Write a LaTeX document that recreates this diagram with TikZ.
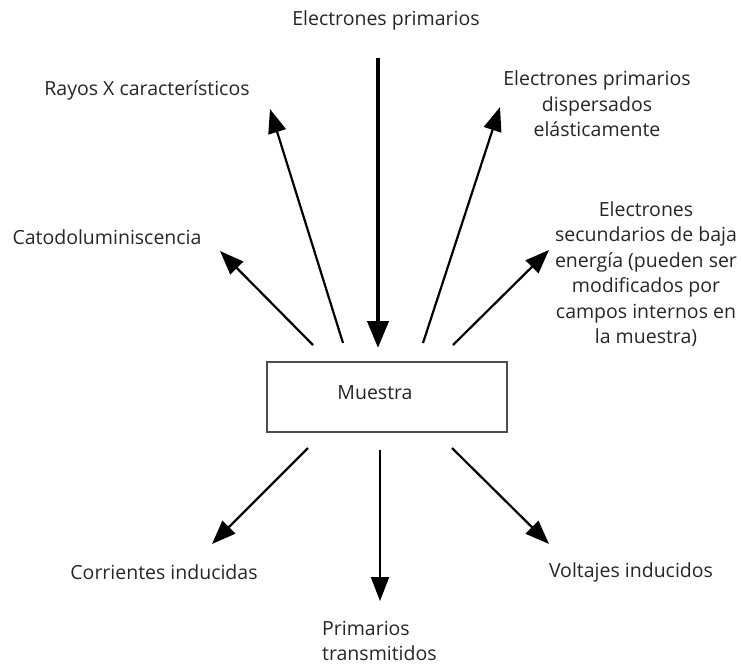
\documentclass[tikz,border=0pt]{standalone}
\usepackage{fontspec}
\setmainfont{Open Sans}
\usetikzlibrary{arrows.meta}

\begin{document}
\begin{tikzpicture}[x=1pt,y=-1pt,font=\fontsize{19.5}{25.5}\selectfont]
      \useasboundingbox (0,0) rectangle (741,665);
      \begin{scope}[every node/.style={inner sep=0pt,align=center,text=black!85}]
        \node (primarios) at (386,20) {Electrones primarios};
        \node (rayosx) at (147,90) {Rayos X característicos};
        \node (catodo) at (107,237) {Catodoluminiscencia};
        \node (dispersados) at (597,104) {Electrones primarios\\dispersados\\elásticamente};
        \node (secundarios) at (646,274) {Electrones\\secundarios de baja\\energía (pueden ser\\modificados por\\campos internos en\\la muestra)};
        \node[draw=black!70,line width=1.3pt,minimum width=240pt,minimum height=70pt] (caja) at (387,397) {};
        \node (muestra) at (375,393) {Muestra};
        \node (corrientes) at (164,572) {Corrientes inducidas};
        \node (voltajes) at (631,572) {Voltajes inducidos};
        \node[align=left,anchor=west] (transmitidos) at (322,641) {Primarios\\transmitidos};
      \end{scope}
      % extremos de las flechas
      \coordinate (p0) at (378,58);   \coordinate (p1) at (378,348);
      \coordinate (r0) at (343,343);  \coordinate (r1) at (270,109);
      \coordinate (c0) at (313,345);  \coordinate (c1) at (220,251);
      \coordinate (d0) at (423,343);  \coordinate (d1) at (500,107);
      \coordinate (s0) at (453,345);  \coordinate (s1) at (549,250);
      \coordinate (i0) at (308,448);  \coordinate (i1) at (212,544);
      \coordinate (t0) at (380,450);  \coordinate (t1) at (380,601);
      \coordinate (v0) at (452,448);  \coordinate (v1) at (549,544);
      \begin{scope}[every edge/.style={draw,line width=2.2pt,-{Triangle[length=24pt,width=18pt]}}]
        \path (p0) edge[line width=4.2pt,-{Triangle[length=27pt,width=21pt]}] (p1);
        \path (r0) edge (r1);
        \path (c0) edge (c1);
        \path (d0) edge (d1);
        \path (s0) edge (s1);
        \path (i0) edge (i1);
        \path (t0) edge (t1);
        \path (v0) edge (v1);
      \end{scope}
    \end{tikzpicture}
\end{document}
